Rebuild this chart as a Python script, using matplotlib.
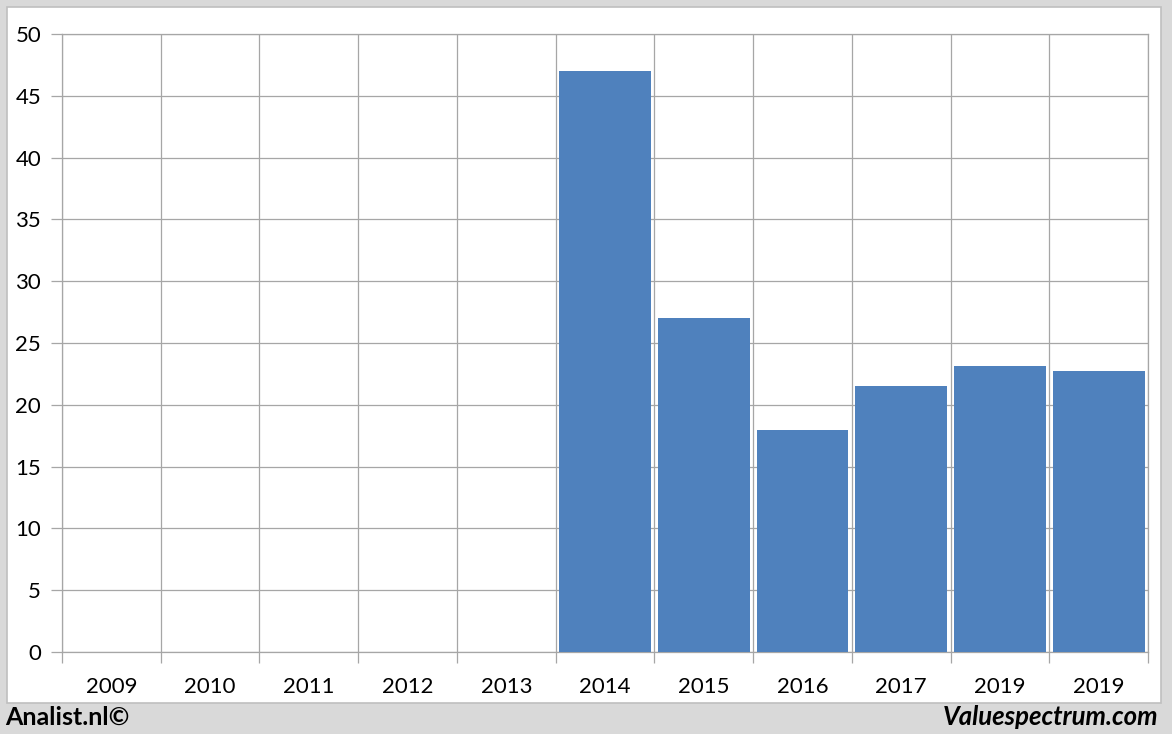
import numpy as np
import matplotlib
matplotlib.use('Agg')
import matplotlib.pyplot as plt
from matplotlib.patches import Rectangle

# data
years = ['2009', '2010', '2011', '2012', '2013', '2014', '2015', '2016', '2017', '2019', '2019']
values = [np.nan, np.nan, np.nan, np.nan, np.nan, 47.0, 27.05, 18.0, 21.55, 23.15, 22.7]
yticks = [0, 5, 10, 15, 20, 25, 30, 35, 40, 45, 50]

W, H = 1172, 734
fig = plt.figure(figsize=(W / 100, H / 100), dpi=100)
fig.patch.set_facecolor('#d9d9d9')

# white panel behind the chart
fig.patches.append(Rectangle((7 / W, 1 - 703 / H), (1161 - 7) / W, (703 - 7) / H,
                             transform=fig.transFigure, facecolor='white',
                             edgecolor='#bfbfbf', linewidth=1.2, zorder=-10))

ax = fig.add_axes([62 / W, 1 - 652 / H, 1086 / W, 618 / H])
ax.set_facecolor('white')

grid_col = '#a6a6a6'
x = np.arange(len(years))
ax.bar(x, values, width=0.93, color='#4f81bd', zorder=3)

ax.set_xlim(-0.5, len(years) - 0.5)
ax.set_ylim(0, 50)
ax.set_yticks(yticks)
ax.set_xticks(x)
ax.set_xticklabels(years)
ax.set_xticks(np.arange(len(years) + 1) - 0.5, minor=True)

ax.tick_params(axis='x', which='major', length=0, pad=18, labelsize=16)
ax.tick_params(axis='x', which='minor', length=8, color=grid_col, width=0.9)
ax.tick_params(axis='y', length=8, color=grid_col, width=0.9, pad=7, labelsize=16)
for lab in ax.get_xticklabels() + ax.get_yticklabels():
    lab.set_fontfamily('Lato')

ax.grid(axis='y', which='major', color=grid_col, linewidth=0.9, zorder=0)
ax.grid(axis='x', which='minor', color=grid_col, linewidth=0.9, zorder=0)
ax.set_axisbelow(True)
for s in ax.spines.values():
    s.set_color(grid_col)
    s.set_linewidth(0.9)

# footer
fig.text(5 / W, 1 - 717 / H, 'Analist.nl©', fontsize=18, fontweight='bold',
         family='Lato', va='center', ha='left')
fig.text(1158 / W, 1 - 717 / H, 'Valuespectrum.com', fontsize=18.5, fontweight='bold',
         style='italic', family='Lato', va='center', ha='right')

fig.savefig('out.png', dpi=100, facecolor=fig.get_facecolor())
